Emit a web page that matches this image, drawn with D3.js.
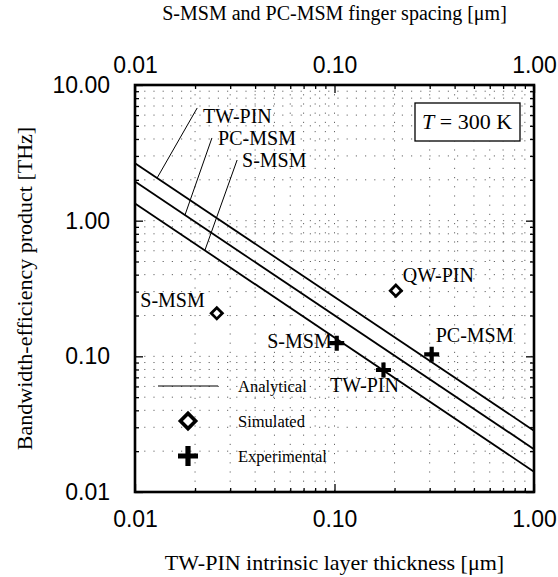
<!DOCTYPE html>
<html>
<head>
<meta charset="utf-8">
<script src="https://cdn.jsdelivr.net/npm/d3@7"></script>
<style>
  body { margin: 0; background: #fff; }
  svg { display: block; font-family: "Liberation Serif", "Times New Roman", serif; }
</style>
</head>
<body>
<div id="chart"></div>
<script>
// analytical curves, value at x=0.01 and x=1.00
var line_names = ["TW-PIN", "PC-MSM", "S-MSM"]
var line_x = [0.01, 1.0]
var line_tw_pin = [2.65, 0.0283]
var line_pc_msm = [1.94, 0.0207]
var line_s_msm = [1.34, 0.0141]

// simulated points
var sim_names = ["S-MSM", "QW-PIN"]
var sim_x = [0.0257, 0.203]
var sim_y = [0.2075, 0.305]

// experimental points
var exp_names = ["S-MSM", "TW-PIN", "PC-MSM"]
var exp_x = [0.1026, 0.176, 0.307]
var exp_y = [0.125, 0.0793, 0.1035]

// axis ticks
var x_major = [0.01, 0.1, 1]
var y_major = [0.01, 0.1, 1, 10]

var W = 558, H = 577
const margin = {top: 85, right: 24, bottom: 85, left: 135}
var width = W - margin.left - margin.right,
    height = H - margin.top - margin.bottom

const svg = d3.select("#chart").append("svg")
    .attr("width", W).attr("height", H)
const g = svg.append("g")
    .attr("transform", `translate(${margin.left},${margin.top})`)

const x = d3.scaleLog().domain([0.01, 1]).range([0, width])
const y = d3.scaleLog().domain([0.01, 10]).range([height, 0])
var fmt = d3.format(".2f")

// minor positions come from the log scale's own ticks
var x_minor = x.ticks().filter(d => x_major.indexOf(d) < 0 && d > 0.01 && d < 1)
var y_minor = y.ticks().filter(d => y_major.indexOf(d) < 0 && d > 0.01 && d < 10)

// dotted grid
g.append("g").selectAll("line").data(x_minor.concat([0.1])).join("line")
    .attr("x1", d => x(d)).attr("x2", d => x(d))
    .attr("y1", 0).attr("y2", height)
    .attr("stroke", "#666").attr("stroke-width", 1)
    .attr("stroke-dasharray", "1.2,8")
g.append("g").selectAll("line").data(y_minor.concat([0.1, 1])).join("line")
    .attr("y1", d => y(d)).attr("y2", d => y(d))
    .attr("x1", 0).attr("x2", width)
    .attr("stroke", "#666").attr("stroke-width", 1)
    .attr("stroke-dasharray", "1.2,8")

// axes: inward ticks on all sides
function style_axis(sel) {
    sel.select(".domain").remove()
    sel.selectAll("line").attr("stroke", "#000").attr("stroke-width", 1.3)
    sel.selectAll("text").style("font-size", "23px").attr("fill", "#000")
}
g.append("g").attr("transform", `translate(0,${height})`)
    .call(d3.axisBottom(x).tickValues(x_major).tickFormat(fmt).tickSizeInner(-8).tickSizeOuter(0).tickPadding(19))
    .call(style_axis)
g.append("g").attr("transform", `translate(0,${height})`)
    .call(d3.axisBottom(x).tickValues(x_minor).tickFormat("").tickSizeInner(-4).tickSizeOuter(0))
    .call(style_axis)
g.append("g")
    .call(d3.axisTop(x).tickValues(x_major).tickFormat(fmt).tickSizeInner(-8).tickSizeOuter(0).tickPadding(12))
    .call(style_axis)
g.append("g")
    .call(d3.axisTop(x).tickValues(x_minor).tickFormat("").tickSizeInner(-4).tickSizeOuter(0))
    .call(style_axis)
g.append("g")
    .call(d3.axisLeft(y).tickValues(y_major).tickFormat(fmt).tickSizeInner(-8).tickSizeOuter(0).tickPadding(25))
    .call(style_axis)
g.append("g")
    .call(d3.axisLeft(y).tickValues(y_minor).tickFormat("").tickSizeInner(-4).tickSizeOuter(0))
    .call(style_axis)
g.append("g").attr("transform", `translate(${width},0)`)
    .call(d3.axisRight(y).tickValues(y_major).tickFormat("").tickSizeInner(-8).tickSizeOuter(0))
    .call(style_axis)
g.append("g").attr("transform", `translate(${width},0)`)
    .call(d3.axisRight(y).tickValues(y_minor).tickFormat("").tickSizeInner(-4).tickSizeOuter(0))
    .call(style_axis)

// frame
g.append("rect").attr("width", width).attr("height", height)
    .attr("fill", "none").attr("stroke", "#000").attr("stroke-width", 2.6)

// axis titles
svg.append("text").attr("x", margin.left + width / 2).attr("y", 20)
    .attr("text-anchor", "middle").style("font-size", "20px")
    .text("S-MSM and PC-MSM finger spacing [\u03bcm]")
svg.append("text").attr("x", margin.left + width / 2).attr("y", 570)
    .attr("text-anchor", "middle").style("font-size", "22px")
    .text("TW-PIN intrinsic layer thickness [\u03bcm]")
svg.append("text")
    .attr("transform", `translate(32,${margin.top + height / 2}) rotate(-90)`)
    .attr("text-anchor", "middle").style("font-size", "22px")
    .text("Bandwidth-efficiency product [THz]")

// analytical lines
var line_vals = [line_tw_pin, line_pc_msm, line_s_msm]
const line_gen = d3.line().x(d => x(d[0])).y(d => y(d[1]))
var lines = line_vals.map(v => line_x.map((xx, i) => [xx, v[i]]))
g.append("g").selectAll("path").data(lines).join("path")
    .attr("d", line_gen).attr("fill", "none")
    .attr("stroke", "#000").attr("stroke-width", 1.8)

// value of a line at a given x (straight in log-log)
function line_at(v, xx) {
    var t = (Math.log10(xx) - Math.log10(line_x[0])) / (Math.log10(line_x[1]) - Math.log10(line_x[0]))
    return Math.pow(10, Math.log10(v[0]) + t * (Math.log10(v[1]) - Math.log10(v[0])))
}

// line labels with leaders: label position (data) and where the leader hits the line
var lab_x = [0.0219, 0.0261, 0.0344]
var lab_y = [5.25, 3.61, 2.49]
var lead_from_x = [0.0205, 0.0243, 0.0325]
var lead_from_y = [6.77, 4.07, 2.80]
var hit_x = [0.0129, 0.0178, 0.0224]
line_names.forEach(function(name, i) {
    g.append("line")
        .attr("x1", x(lead_from_x[i])).attr("y1", y(lead_from_y[i]))
        .attr("x2", x(hit_x[i])).attr("y2", y(line_at(line_vals[i], hit_x[i])))
        .attr("stroke", "#000").attr("stroke-width", 1)
    g.append("text").attr("x", x(lab_x[i])).attr("y", y(lab_y[i]))
        .style("font-size", "20px").text(name)
})

// marker shapes
const diamond = d3.symbol().type(d3.symbolSquare).size(62)
const big_diamond = d3.symbol().type(d3.symbolSquare).size(115)
function plus_path(s, t) {
    return `M${-t},${-s}H${t}V${-t}H${s}V${t}H${t}V${s}H${-t}V${t}H${-s}V${-t}H${-t}Z`
}

// simulated points
var sim = sim_x.map((d, i) => ({x: d, y: sim_y[i], name: sim_names[i]}))
g.append("g").selectAll("path").data(sim).join("path")
    .attr("transform", d => `translate(${x(d.x)},${y(d.y)}) rotate(45)`)
    .attr("d", diamond).attr("fill", "#fff")
    .attr("stroke", "#000").attr("stroke-width", 2.8)

// experimental points
var expd = exp_x.map((d, i) => ({x: d, y: exp_y[i], name: exp_names[i]}))
g.append("g").selectAll("path").data(expd).join("path")
    .attr("transform", d => `translate(${x(d.x)},${y(d.y)})`)
    .attr("d", plus_path(7.5, 2.1)).attr("fill", "#000")

// point labels
var sim_dx = [-12, 7], sim_dy = [-6, -9], sim_anchor = ["end", "start"]
g.append("g").selectAll("text").data(sim).join("text")
    .attr("x", (d, i) => x(d.x) + sim_dx[i]).attr("y", (d, i) => y(d.y) + sim_dy[i])
    .attr("text-anchor", (d, i) => sim_anchor[i])
    .style("font-size", "20px").text(d => d.name)
var exp_dx = [-5, -19, 4], exp_dy = [5, 22, -12], exp_anchor = ["end", "middle", "start"]
g.append("g").selectAll("text").data(expd).join("text")
    .attr("x", (d, i) => x(d.x) + exp_dx[i]).attr("y", (d, i) => y(d.y) + exp_dy[i])
    .attr("text-anchor", (d, i) => exp_anchor[i])
    .style("font-size", "20px").text(d => d.name)

// legend
var legend_labels = ["Analytical", "Simulated", "Experimental"]
const lg = g.append("g").attr("transform", `translate(23,${height - 106})`)
legend_labels.forEach(function(lab, i) {
    var yy = [0, 35, 70][i]
    if (i == 0) {
        lg.append("line").attr("x1", 0).attr("x2", 60).attr("y1", yy).attr("y2", yy)
            .attr("stroke", "#000").attr("stroke-width", 1.2)
    } else if (i == 1) {
        lg.append("path").attr("transform", `translate(30,${yy}) rotate(45)`)
            .attr("d", big_diamond).attr("fill", "#fff")
            .attr("stroke", "#000").attr("stroke-width", 3.6)
    } else {
        lg.append("path").attr("transform", `translate(30,${yy})`)
            .attr("d", plus_path(10, 2.6)).attr("fill", "#000")
    }
    lg.append("text").attr("x", 80).attr("y", yy).attr("dy", "0.35em")
        .style("font-size", "16.5px").text(lab)
})

// temperature box
const tb = g.append("g").attr("transform", `translate(${width - 119},18)`)
tb.append("rect").attr("width", 105).attr("height", 38)
    .attr("fill", "#fff").attr("stroke", "#000").attr("stroke-width", 1.3)
var tt = tb.append("text").attr("x", 52).attr("y", 26).attr("text-anchor", "middle")
    .style("font-size", "22px")
tt.append("tspan").style("font-style", "italic").text("T")
tt.append("tspan").text(" = 300 K")
</script>
</body>
</html>
